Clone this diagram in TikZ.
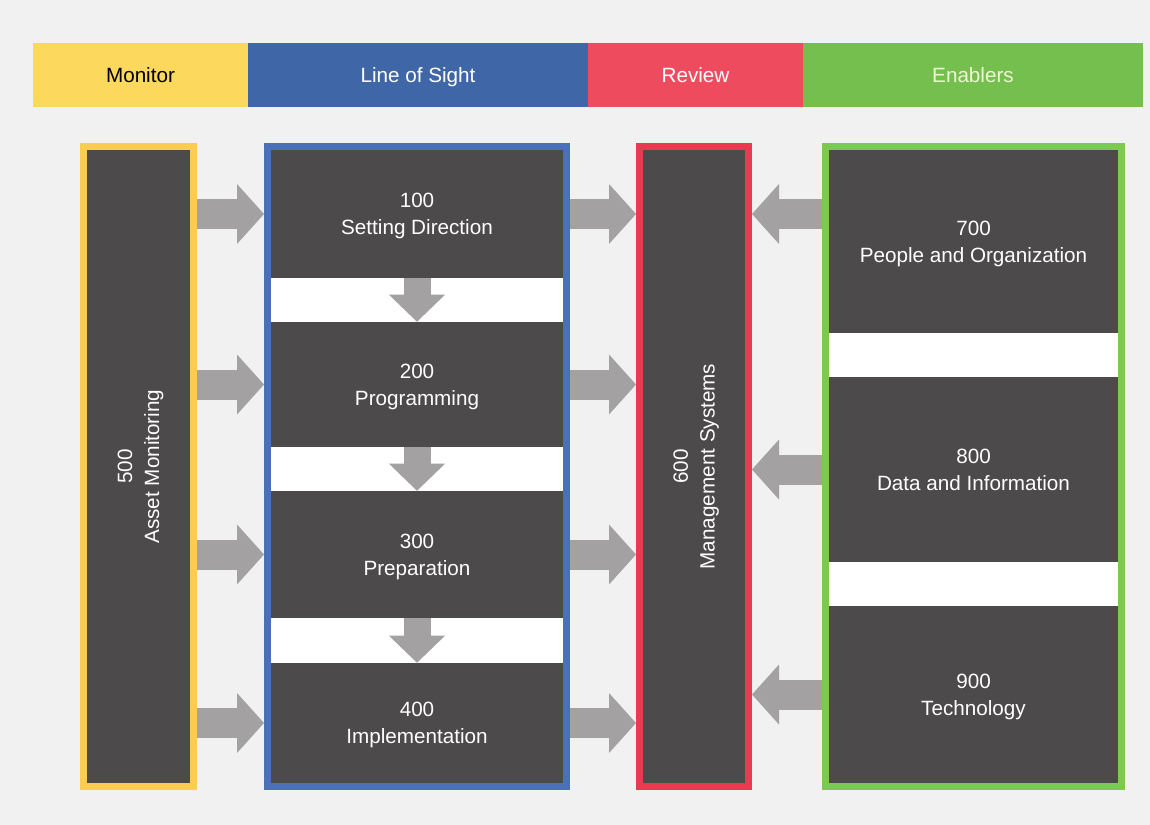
\documentclass[tikz,border=0pt]{standalone}
\usepackage{fontspec}
\setmainfont{Liberation Sans}
\usetikzlibrary{arrows.meta}
\definecolor{bgc}{HTML}{F1F1F1}
\definecolor{darkbox}{HTML}{4C4A4A}
\definecolor{arrowgray}{HTML}{A3A1A2}
\definecolor{hyellow}{HTML}{FCD85C}
\definecolor{fyellow}{HTML}{F9CE4C}
\definecolor{hblue}{HTML}{3F66A6}
\definecolor{fblue}{HTML}{4A70BA}
\definecolor{hred}{HTML}{EE4C5E}
\definecolor{fred}{HTML}{E83A50}
\definecolor{hgreen}{HTML}{75BF4F}
\definecolor{fgreen}{HTML}{7CC850}
\definecolor{entext}{HTML}{EEF5D5}
\newcommand\pxu{0.75pt}
\tikzset{
  bodyfont/.style={font=\fontsize{15.5}{20.2}\selectfont},
  hdr/.style n args={3}{fill=#1, text=#2, draw=none, inner sep=0pt, text height=11.5pt, text depth=0pt, minimum height=64*\pxu, minimum width=#3*\pxu, bodyfont},
  frm/.style n args={3}{draw=#1, fill=white, line width=7*\pxu, inner sep=0pt, minimum width=#2*\pxu, minimum height=#3*\pxu},
  dbox/.style 2 args={fill=darkbox, draw=none, text=white, inner sep=0pt, align=center, text depth=0pt, minimum width=#1*\pxu, minimum height=#2*\pxu, bodyfont},
  harrow/.style={draw=arrowgray, line width=30*\pxu, -{Triangle[length=27*\pxu, width=60*\pxu, line width=0pt]}},
  varrow/.style={draw=arrowgray, line width=27*\pxu, -{Triangle[length=27*\pxu, width=56*\pxu, line width=0pt]}}
}
\begin{document}
\begin{tikzpicture}[x=0.75pt, y=-0.75pt]
\useasboundingbox (0,0) rectangle (1150,825);
\fill[bgc] (0,0) rectangle (1150,825);
% header bar
\node[hdr={hyellow}{black}{215}] (hmon) at (140.5,75) {Monitor};
\node[hdr={hblue}{white}{340}] (hlos) at (418,75) {Line of Sight};
\node[hdr={hred}{white}{215}] (hrev) at (695.5,75) {Review};
\node[hdr={hgreen}{entext}{340}] (hena) at (973,75) {Enablers};
% frames
\node[frm={fyellow}{110}{640}] (frmon) at (138.5,466.5) {};
\node[frm={fblue}{299}{640}] (frlos) at (417,466.5) {};
\node[frm={fred}{109}{640}] (frrev) at (694,466.5) {};
\node[frm={fgreen}{296}{640}] (frena) at (973.5,466.5) {};
% monitor column
\node[dbox={633}{103}, rotate=90] (m500) at (138.5,466.5) {500\\Asset Monitoring};
% line of sight column
\node[dbox={292}{128}] (s100) at (417,214) {100\\Setting Direction};
\node[dbox={292}{125}] (s200) at (417,384.5) {200\\Programming};
\node[dbox={292}{127}] (s300) at (417,554.5) {300\\Preparation};
\node[dbox={292}{120}] (s400) at (417,723) {400\\Implementation};
% review column
\node[dbox={633}{102}, rotate=90] (m600) at (694,466.5) {600\\Management Systems};
% enablers column
\node[dbox={289}{183}] (e700) at (973.5,241.5) {700\\People and Organization};
\node[dbox={289}{185}] (e800) at (973.5,469.5) {800\\Data and Information};
\node[dbox={289}{177}] (e900) at (973.5,694.5) {900\\Technology};
% monitor -> line of sight -> review
\foreach \b in {s100,s200,s300,s400}{
  \draw[harrow] (frmon.east |- \b) -- (frlos.west |- \b);
  \draw[harrow] (frlos.east |- \b) -- (frrev.west |- \b);
}
% down arrows
\draw[varrow] (s100.south) -- (s200.north);
\draw[varrow] (s200.south) -- (s300.north);
\draw[varrow] (s300.south) -- (s400.north);
% enablers -> review
\draw[harrow] (frena.west |- s100) -- (frrev.east |- s100);
\draw[harrow] (frena.west |- e800) -- (frrev.east |- e800);
\draw[harrow] (frena.west |- e900) -- (frrev.east |- e900);
\end{tikzpicture}
\end{document}
